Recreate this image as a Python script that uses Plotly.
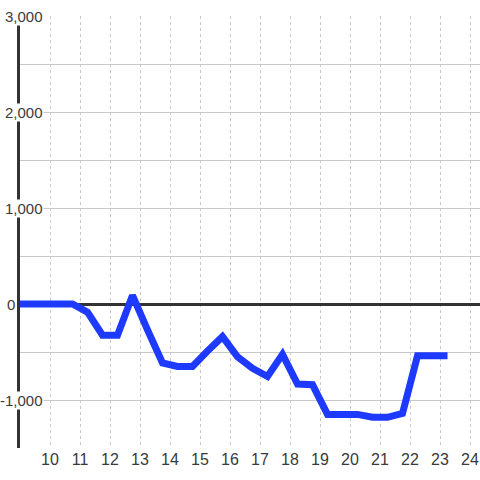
import plotly.graph_objects as go

hours = [8.75, 9.25, 9.75, 10.25, 10.75, 11.25, 11.75, 12.25, 12.75, 13.25, 13.75,
         14.25, 14.75, 15.25, 15.75, 16.25, 16.75, 17.25, 17.75, 18.25, 18.75,
         19.25, 19.75, 20.25, 20.75, 21.25, 21.75, 22.25, 22.75, 23.25]
values = [0, 0, 0, 0, 0, -85, -325, -325, 90, -270, -615,
          -650, -650, -490, -340, -550, -670, -755, -525, -833, -840,
          -1150, -1150, -1150, -1180, -1180, -1140, -540, -540, -540]

x_ticks = list(range(10, 25))
y_grid = [-1500, -1000, -500, 0, 500, 1000, 1500, 2000, 2500, 3000]
y_labels = [3000, 2000, 1000, 0, -1000]
y_label_text = ["3,000", "2,000", "1,000", "0", "-1,000"]

FONT = "Liberation Sans, Arial, sans-serif"

fig = go.Figure()
fig.add_trace(go.Scatter(
    x=hours, y=values, mode="lines",
    line=dict(color="rgb(31,58,255)", width=7),
    hoverinfo="skip",
))

annotations = []
for v, t in zip(y_labels, y_label_text):
    annotations.append(dict(
        x=0, xref="paper", y=v, yref="y", text=t, showarrow=False,
        xanchor="right", yanchor="middle",
        xshift=(-4 if v == 0 else 24),
        bgcolor="white", borderpad=0,
        font=dict(family=FONT, size=15, color="#3a3a3a"),
    ))

fig.update_layout(
    width=480, height=480,
    margin=dict(l=20, r=0, t=16, b=32),
    paper_bgcolor="white", plot_bgcolor="white",
    showlegend=False,
    annotations=annotations,
    font=dict(family=FONT, size=16, color="#3a3a3a"),
    xaxis=dict(
        range=[9.0, 24.333], tickvals=x_ticks, ticktext=[str(t) for t in x_ticks],
        showgrid=True, gridcolor="#c8c8c8", griddash="dot", gridwidth=1,
        zeroline=False, showline=False, ticks="",
        tickfont=dict(family=FONT, size=16, color="#3a3a3a"),
    ),
    yaxis=dict(
        range=[-1500, 3000], tickvals=y_grid, showticklabels=False,
        showgrid=True, gridcolor="#c8c8c8", gridwidth=1,
        zeroline=True, zerolinecolor="#333", zerolinewidth=3,
        showline=True, linecolor="#333", linewidth=3, ticks="",
    ),
)

fig.write_html(
    "out.html",
    config={"displayModeBar": False},
    post_script="document.body.style.margin='0';document.body.style.padding='0';",
)
